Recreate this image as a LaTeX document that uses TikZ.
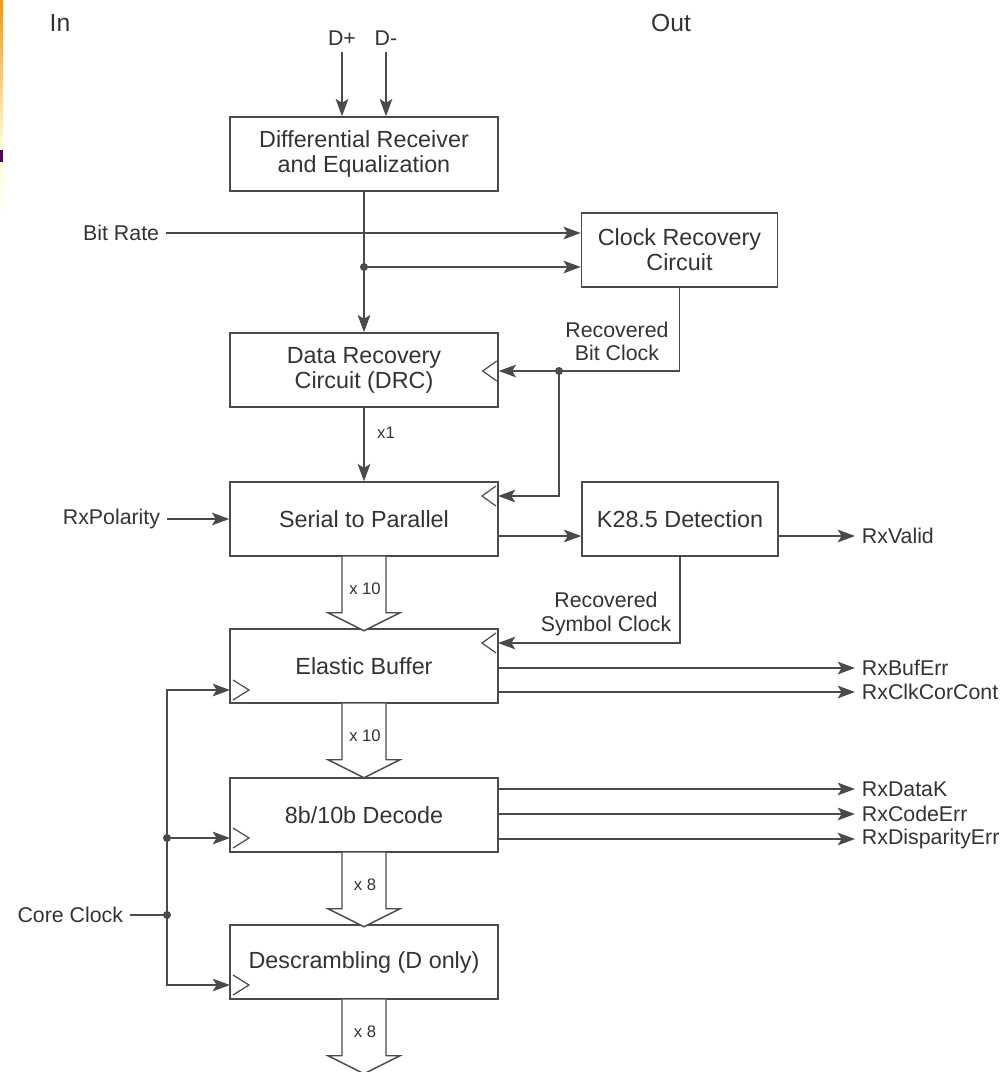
\documentclass[tikz,border=0pt]{standalone}
\usepackage{fontspec}
\setmainfont{Liberation Sans}
\usetikzlibrary{arrows.meta,positioning,calc}
\definecolor{linec}{HTML}{4A4A4A}
\definecolor{txtc}{HTML}{333333}
\newcommand{\boxfont}{\fontsize{17.5}{18.8}\selectfont}
\newcommand{\lblfont}{\fontsize{16}{17.3}\selectfont}
\newcommand{\busfont}{\fontsize{12.5}{14}\selectfont}
\newcommand{\headfont}{\fontsize{18.5}{20}\selectfont}

\begin{document}
\begin{tikzpicture}[x=0.75pt, y=-0.75pt, >={Stealth[length=13pt,width=9.5pt,inset=3pt]},
    blk/.style={draw=linec, line width=1.1pt, minimum width=201pt, minimum height=55.5pt, align=center, font=\boxfont, text=txtc},
    lbl/.style={font=\lblfont, text=txtc, inner sep=5pt, align=center},
    wire/.style={draw=linec, line width=1.1pt},
    bus/.style={draw=linec, line width=1.1pt, fill=white},
    clk/.style={draw=linec, line width=0.9pt}]
    \useasboundingbox (0,0) rectangle (1004,1072);

    % slide edge
    \shade[top color=orange!85!yellow, bottom color=yellow!15] (0,0) rectangle (2.5,150);
    \fill[violet!70!black] (0,150) rectangle (3,162);
    \shade[top color=yellow!20, bottom color=white] (0,162) rectangle (2.5,215);

    % blocks
    \node[blk] (diff) at (364,154) {Differential Receiver\\and Equalization};
    \node[blk, minimum width=147pt] (crc) at (679.5,250) {Clock Recovery\\Circuit};
    \node[blk] (drc) at (364,370) {Data Recovery\\Circuit (DRC)};
    \node[blk] (s2p) at (364,519) {Serial to Parallel};
    \node[blk, minimum width=147pt] (k285) at (680,519) {K28.5 Detection};
    \node[blk] (eb) at (364,666) {Elastic Buffer};
    \node[blk] (dec) at (364,815) {8b/10b Decode};
    \node[blk] (desc) at (364,962) {Descrambling (D only)};

    % labels
    \node[lbl, font=\headfont] (in) at (60,23) {In};
    \node[lbl, font=\headfont] (out) at (671,23) {Out};
    \node[lbl] (dp) at (342,38) {D+};
    \node[lbl] (dm) at (386,38) {D-};
    \node[lbl, anchor=east] (bitrate) at (166,233) {Bit Rate};
    \node[lbl] (bitlbl) at (617,341) {Recovered\\Bit Clock};
    \node[lbl, font=\busfont] (xone) at (386,433) {x1};
    \node[lbl, anchor=east] (rxpol) at (167,519) {RxPolarity};
    \node[lbl, anchor=west] (rxvalid) at (855,536) {RxValid};
    \node[lbl] (symlbl) at (606,614) {Recovered\\Symbol Clock};
    \node[lbl, anchor=west] (bufer) at (855,668) {RxBufErr};
    \node[lbl, anchor=west] (clkcor) at (855,692) {RxClkCorCont};
    \node[lbl, anchor=west] (datak) at (855,789) {RxDataK};
    \node[lbl, anchor=west] (codeerr) at (855,814) {RxCodeErr};
    \node[lbl, anchor=west] (disperr) at (855,839) {RxDisparityErr};
    \node[lbl, anchor=east] (coreclk) at (130,915) {Core Clock};

    % junctions and clock inputs
    \coordinate (tap) at (364,267);
    \coordinate (bitclk) at (559,371);
    \coordinate (drcclk) at (drc.east |- bitclk);
    \coordinate (s2pclk) at (498,496);
    \coordinate (ebclk) at (498,643);
    \coordinate (ccdot) at (167,915);
    \coordinate (decdot) at (167,838);
    \coordinate (ebin) at (230,690);
    \coordinate (decin) at (230,838);
    \coordinate (descin) at (230,985);

    % data path
    \draw[wire,->] (dp) -- (dp |- diff.north);
    \draw[wire,->] (dm) -- (dm |- diff.north);
    \draw[wire,->] (diff) -- (drc);
    \draw[wire,->] (bitrate) -- (bitrate -| crc.west);
    \draw[wire,->] (tap) -- (tap -| crc.west);
    \draw[wire,->] (crc.south) |- (bitclk) -- (drcclk);
    \draw[wire,->] (bitclk) |- (s2pclk);
    \draw[wire,->] (drc) -- (s2p);
    \draw[wire,->] (rxpol) -- (s2p);
    \draw[wire,->] (s2p.east |- rxvalid) -- (k285.west |- rxvalid);
    \draw[wire,->] (k285.east |- rxvalid) -- (rxvalid);
    \draw[wire,->] (k285.south) |- (ebclk);
    \foreach \o in {bufer, clkcor}
      \draw[wire,->] (eb.east |- \o) -- (\o);
    \foreach \o in {datak, codeerr, disperr}
      \draw[wire,->] (dec.east |- \o) -- (\o);

    % core clock
    \draw[wire] (coreclk) -- (ccdot) -- (decdot);
    \draw[wire,->] (decdot) |- (ebin);
    \draw[wire,->] (decdot) -- (decin);
    \draw[wire,->] (ccdot) |- (descin);
    \foreach \d in {tap, bitclk, decdot, ccdot}
      \fill[linec] (\d) circle (3pt);

    % clock marks
    \foreach \c in {ebin, decin, descin}
      \draw[clk] ([shift={(3,-10)}]\c) -- ([shift={(19,0)}]\c) -- ([shift={(3,10)}]\c);
    \foreach \c in {drcclk, s2pclk, ebclk}
      \draw[clk] ([shift={(-2,-10)}]\c) -- ([shift={(-16,0)}]\c) -- ([shift={(-2,10)}]\c);

    % buses
    \foreach \a/\n in {s2p/10, eb/10, dec/8, desc/8} {
      \draw[bus] (\a.south) ++(-22,0) -- ++(0,56) -- ++(-14,0) -- ++(36,18) -- ++(36,-18) -- ++(-14,0) -- ++(0,-56);
      \node[font=\busfont, text=txtc] (w\a) at ([shift={(1,32)}]\a.south) {x \n};
    }
\end{tikzpicture}
\end{document}
